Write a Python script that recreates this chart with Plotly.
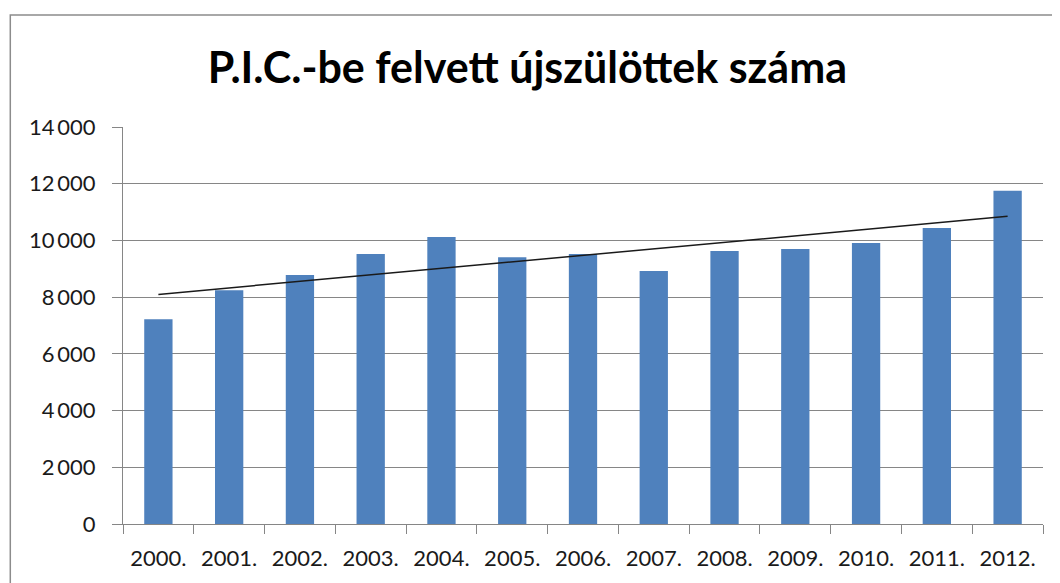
import numpy as np
import plotly.graph_objects as go

years = ["2000.", "2001.", "2002.", "2003.", "2004.", "2005.", "2006.",
         "2007.", "2008.", "2009.", "2010.", "2011.", "2012."]
values = [7220, 8240, 8780, 9520, 10120, 9410, 9520, 8920, 9630, 9700, 9910, 10440, 11750]
y_tickvals = [0, 2000, 4000, 6000, 8000, 10000, 12000, 14000]
y_ticktext = ["0", "2\u2009000", "4\u2009000", "6\u2009000", "8\u2009000",
              "10\u2009000", "12\u2009000", "14\u2009000"]
title_text = "P.I.C.-be felvett újszülöttek száma"

idx = np.arange(len(values))
slope, intercept = np.polyfit(idx, values, 1)
trend = slope * idx + intercept

fig = go.Figure()
fig.add_trace(go.Bar(x=years, y=values, marker=dict(color="#4F81BD", line=dict(width=0)),
                     showlegend=False))
fig.add_trace(go.Scatter(x=years, y=trend, mode="lines",
                         line=dict(color="#1a1a1a", width=1.5), showlegend=False))

font_family = "Lato, 'Open Sans', sans-serif"
fig.update_layout(
    width=1060, height=583,
    margin=dict(l=115, r=25, t=119, b=67),
    paper_bgcolor="white", plot_bgcolor="white",
    bargap=0.6,
    title=dict(text="<b>" + title_text + "</b>", xref="container", x=0.49, xanchor="center",
               y=0.898, yanchor="middle",
               font=dict(family=font_family, size=43, color="#000000")),
    font=dict(family=font_family, size=22, color="#1a1a1a"),
    shapes=[dict(type="rect", xref="paper", yref="paper",
                 x0=-0.1225, y0=-0.25, x1=1.1, y1=1.282,
                 line=dict(color="#8c8c8c", width=1.5), fillcolor="rgba(0,0,0,0)",
                 layer="below")],
)
fig.update_xaxes(type="category", tickson="boundaries", ticks="outside", ticklen=9,
                 tickcolor="#868686", tickwidth=1.2, showline=True, linecolor="#868686",
                 linewidth=1.2, showgrid=False, ticklabelstandoff=14,
                 tickfont=dict(family=font_family, size=22, color="#1a1a1a"))
fig.update_yaxes(range=[0, 14000], tickvals=y_tickvals, ticktext=y_ticktext,
                 ticks="outside", ticklen=10, tickcolor="#868686", tickwidth=1.2,
                 showline=True, linecolor="#868686", linewidth=1.2,
                 showgrid=True, gridcolor="#868686", gridwidth=1.2,
                 zeroline=False, ticklabelstandoff=12,
                 tickfont=dict(family=font_family, size=22, color="#1a1a1a"))

fig.write_html("out.html")
